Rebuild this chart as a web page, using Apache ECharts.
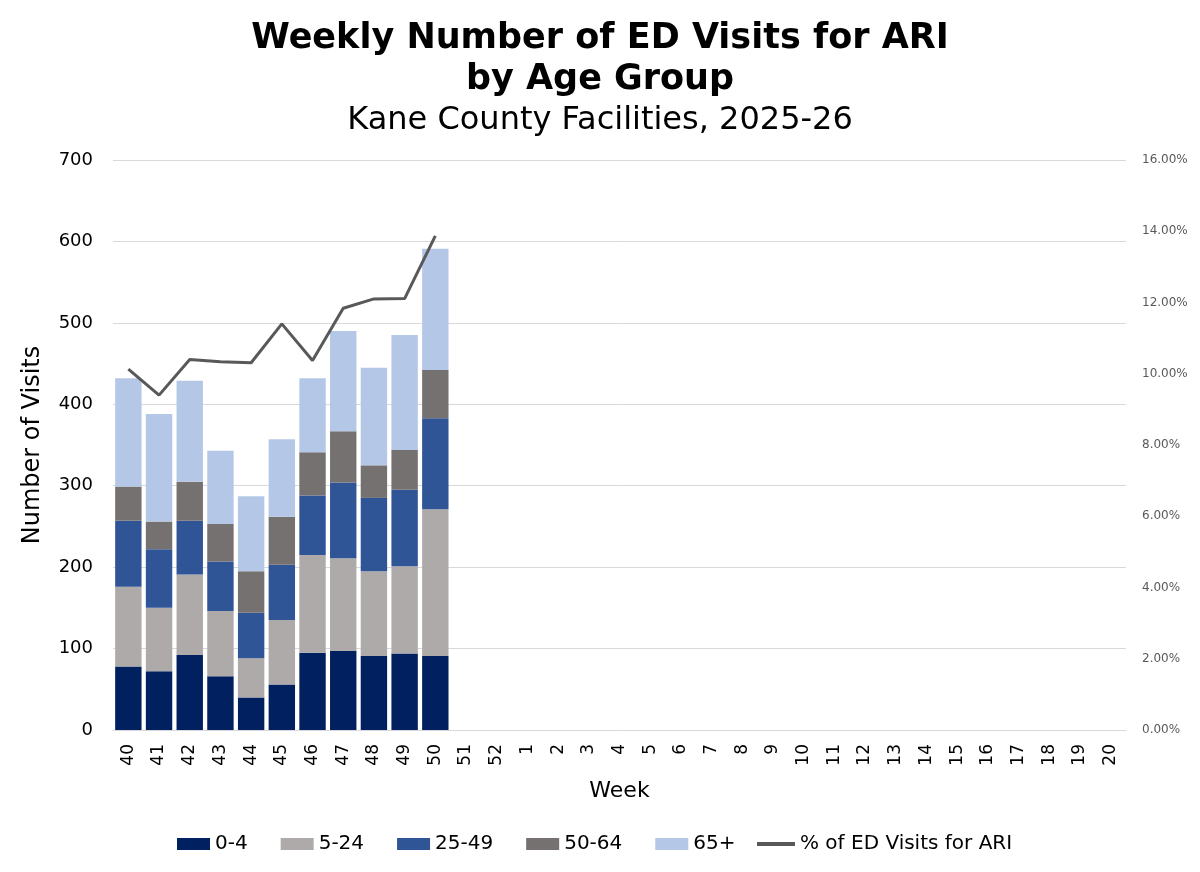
<!DOCTYPE html>
<html lang="en">
<head>
    <meta charset="UTF-8">
    <title>Weekly Number of ED Visits for ARI</title>
    <script src="https://cdn.jsdelivr.net/npm/echarts@6/dist/echarts.min.js"></script>
    <style>
        html, body { margin: 0; padding: 0; background: #fff; }
        #chart { width: 1200px; height: 872px; }
    </style>
</head>
<body>
<div id="chart"></div>
<script type="text/javascript">
    // weeks of the 2025-26 season
    var weeks = ['40','41','42','43','44','45','46','47','48','49','50','51','52',
        '1','2','3','4','5','6','7','8','9','10','11','12','13','14','15','16','17','18','19','20'];

    // visits per age group (only weeks 40-50 reported so far)
    var age0to4   = [78, 72, 92, 66, 40, 56, 95, 97, 91, 94, 91];
    var age5to24  = [98, 78, 99, 80, 48, 79, 120, 114, 104, 107, 180];
    var age25to49 = [81, 72, 66, 61, 56, 68, 73, 93, 90, 94, 112];
    var age50to64 = [42, 34, 48, 46, 51, 59, 53, 63, 40, 49, 59];
    var age65plus = [133, 132, 124, 90, 92, 95, 91, 123, 120, 141, 149];

    // share of all ED visits that were ARI
    var pctAri = [0.1013, 0.0940, 0.1040, 0.1034, 0.1031, 0.1140, 0.1037, 0.1184, 0.1210, 0.1211, 0.1387];

    var leftTicks = { min: 0, max: 700, interval: 100 };
    var rightTicks = { min: 0, max: 0.16, interval: 0.02 };

    var font = 'DejaVu Sans';
    var myChart = echarts.init(document.getElementById('chart'));

    function barSeries(name, data, color) {
        return {
            name: name,
            type: 'bar',
            stack: 'age',
            barCategoryGap: '14%',
            itemStyle: { color: color },
            data: data
        };
    }

    var option = {
        backgroundColor: '#fff',
        textStyle: { fontFamily: font },
        title: [
            {
                text: 'Weekly Number of ED Visits for ARI\nby Age Group',
                left: 'center',
                top: 13,
                textStyle: { fontFamily: font, fontSize: 35, fontWeight: 'bold', color: '#000', lineHeight: 41 }
            },
            {
                text: 'Kane County Facilities, 2025-26',
                left: 'center',
                top: 100,
                textStyle: { fontFamily: font, fontSize: 32, fontWeight: 'normal', color: '#000' }
            }
        ],
        // bars and the line get their own legend so the line key can be a thin bar
        legend: [
            {
                top: 829,
                left: 172,
                icon: 'rect',
                itemWidth: 33,
                itemHeight: 12,
                itemGap: 33,
                textStyle: { fontFamily: font, fontSize: 20, color: '#000' },
                data: ['0-4', '5-24', '25-49', '50-64', '65+']
            },
            {
                top: 829,
                left: 752,
                icon: 'rect',
                itemWidth: 38,
                itemHeight: 4,
                textStyle: { fontFamily: font, fontSize: 20, color: '#000' },
                data: ['% of ED Visits for ARI']
            }
        ],
        grid: { left: 113, right: 74, top: 160, bottom: 142 },
        xAxis: {
            type: 'category',
            data: weeks,
            name: 'Week',
            nameLocation: 'middle',
            nameGap: 50,
            nameTextStyle: { fontFamily: font, fontSize: 22, color: '#000' },
            axisTick: { show: false },
            axisLine: { lineStyle: { color: '#d9d9d9' } },
            axisLabel: { rotate: 90, fontSize: 17, color: '#000', margin: 14 }
        },
        yAxis: [
            {
                type: 'value',
                min: leftTicks.min,
                max: leftTicks.max,
                interval: leftTicks.interval,
                name: 'Number of Visits',
                nameLocation: 'middle',
                nameGap: 68,
                nameTextStyle: { fontFamily: font, fontSize: 24, color: '#000' },
                axisLabel: { fontSize: 18, color: '#000', margin: 20 },
                splitLine: { lineStyle: { color: '#d9d9d9' } }
            },
            {
                type: 'value',
                min: rightTicks.min,
                max: rightTicks.max,
                interval: rightTicks.interval,
                axisLabel: {
                    fontSize: 12, color: '#595959', margin: 16,
                    formatter: function (v) { return (v * 100).toFixed(2) + '%'; }
                },
                splitLine: { show: false },
                axisLine: { show: false },
                axisTick: { show: false }
            }
        ],
        series: [
            barSeries('0-4', age0to4, '#002060'),
            barSeries('5-24', age5to24, '#aeaaaa'),
            barSeries('25-49', age25to49, '#2f5597'),
            barSeries('50-64', age50to64, '#767171'),
            barSeries('65+', age65plus, '#b4c7e7'),
            {
                name: '% of ED Visits for ARI',
                type: 'line',
                yAxisIndex: 1,
                symbol: 'none',
                z: 5,
                lineStyle: { color: '#595959', width: 3 },
                itemStyle: { color: '#595959' },
                data: pctAri
            }
        ]
    };

    myChart.setOption(option);
</script>
</body>
</html>
